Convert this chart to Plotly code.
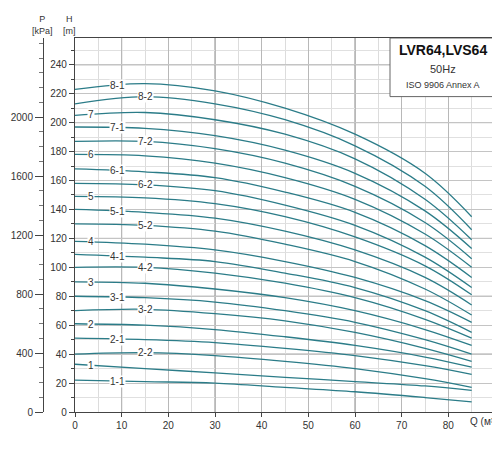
import numpy as np
import plotly.graph_objects as go

q = [0, 15, 30, 45, 60, 75, 85]

names = ["8-1", "8-2", "7", "7-1", "7-2", "6", "6-1", "6-2", "5", "5-1", "5-2",
         "4", "4-1", "4-2", "3", "3-1", "3-2", "2", "2-1", "2-2", "1", "1-1"]

h_8_1 = [223, 227, 222, 210, 192, 165, 135]
h_8_2 = [213, 218, 213, 202, 184, 156, 126]
h_7 = [205, 207, 202, 192, 175, 147, 119]
h_7_1 = [197, 196, 191, 181, 165, 139, 113]
h_7_2 = [187, 187, 182, 172, 156, 131, 106]
h_6 = [178, 177, 172, 162, 147, 123, 100]
h_6_1 = [168, 166, 162, 152, 138, 115, 93]
h_6_2 = [158, 157, 153, 143, 129, 107, 86]
h_5 = [149, 148, 144, 135, 121, 101, 81]
h_5_1 = [140, 138, 134, 125, 112, 93, 74]
h_5_2 = [130, 129, 125, 116, 104, 85, 67]
h_4 = [118, 116, 112, 104, 93, 77, 62]
h_4_1 = [109, 107, 104, 96, 86, 70, 55]
h_4_2 = [100, 100, 96, 89, 79, 64, 51]
h_3 = [90, 89, 85, 79, 70, 57, 46]
h_3_1 = [80, 79, 76, 70, 62, 50, 40]
h_3_2 = [70, 71, 68, 63, 55, 44, 35]
h_2 = [61, 60, 57, 52, 46, 38, 31]
h_2_1 = [51, 50, 48, 44, 39, 32, 26]
h_2_2 = [40, 41, 39, 35, 30, 23, 17]
h_1 = [33, 30, 27, 24, 21, 18, 15]
h_1_1 = [22, 21, 20, 17, 14, 10, 7]

heads = [h_8_1, h_8_2, h_7, h_7_1, h_7_2, h_6, h_6_1, h_6_2, h_5, h_5_1, h_5_2,
         h_4, h_4_1, h_4_2, h_3, h_3_1, h_3_2, h_2, h_2_1, h_2_2, h_1, h_1_1]

x_ticks = [0, 10, 20, 30, 40, 50, 60, 70, 80]
h_ticks = list(range(0, 241, 20))
p_ticks = [0, 400, 800, 1200, 1600, 2000]

line_col = "#2b7c88"
H_MAX = 258.5

fig = go.Figure()
for name, h in zip(names, heads):
    fig.add_trace(go.Scatter(x=q, y=h, mode="lines", line=dict(color=line_col, width=1.3, shape="spline"),
                             showlegend=False, hoverinfo="skip"))
    # label position depends on suffix
    if name.endswith("-1"):
        lx = 9
    elif name.endswith("-2"):
        lx = 15
    else:
        lx = 3.5
    ly = np.interp(lx, q, h)
    fig.add_annotation(x=lx, y=ly, text=name, showarrow=False, bgcolor="white",
                       font=dict(size=10, color="#333"), borderpad=0)

# dummy trace for the pressure axis
fig.add_trace(go.Scatter(x=[0], y=[0], yaxis="y2", mode="markers", marker=dict(opacity=0),
                         showlegend=False, hoverinfo="skip"))

fig.update_layout(
    width=500, height=450,
    margin=dict(l=5, r=13, t=30, b=46, autoexpand=False),
    plot_bgcolor="white", paper_bgcolor="white",
    font=dict(family="Liberation Sans, Arial", size=10, color="#333"),
    xaxis=dict(domain=[62 / 482, 1], range=[0, 90], tickvals=x_ticks, showgrid=True, automargin=False,
               gridcolor="#b8b8b8", gridwidth=1, zeroline=False,
               minor=dict(dtick=5, showgrid=True, gridcolor="#dcdcdc"),
               showline=True, linecolor="#444", linewidth=1.2, mirror=True,
               ticks="outside", ticklen=4, tickcolor="#444"),
    yaxis=dict(range=[0, H_MAX], tickvals=h_ticks, showgrid=True, gridcolor="#c4c4c4", automargin=False,
               zeroline=False, minor=dict(dtick=10, showgrid=True, gridcolor="#e0e0e0",
                                          ticks="outside", ticklen=3, tickcolor="#444"),
               showline=True, linecolor="#444", linewidth=1.2, mirror=True,
               ticks="outside", ticklen=5, tickcolor="#444"),
    yaxis2=dict(overlaying="y", anchor="free", position=30 / 482, side="left", automargin=False,
                range=[0, H_MAX * 9.81], tickvals=p_ticks, showgrid=False, zeroline=False,
                showline=True, linecolor="#444", linewidth=1,
                ticks="outside", ticklen=8, tickcolor="#444",
                minor=dict(dtick=100, ticks="outside", ticklen=4, tickcolor="#777")),
)

# grid lines at multiples of 40 m are darker
for hv in [40, 80, 120, 160, 200, 240]:
    fig.add_shape(type="line", xref="x", yref="y", x0=0, x1=90, y0=hv, y1=hv,
                  line=dict(color="#8a8a8a", width=1), layer="below")
for qv in [10, 30, 60]:
    fig.add_shape(type="line", xref="x", yref="y", x0=qv, x1=qv, y0=0, y1=H_MAX,
                  line=dict(color="#8a8a8a", width=1), layer="below")

# title box
fig.add_shape(type="rect", xref="x", yref="y", x0=67.5, x1=90, y0=218, y1=H_MAX,
              fillcolor="white", line=dict(color="#666", width=1))
fig.add_annotation(x=78.8, y=250, xref="x", yref="y", text="<b>LVR64,LVS64</b>", showarrow=False,
                   font=dict(size=14, color="#111"))
fig.add_annotation(x=78.8, y=237, xref="x", yref="y", text="50Hz", showarrow=False,
                   font=dict(size=11, color="#333"))
fig.add_annotation(x=78.8, y=226, xref="x", yref="y", text="ISO 9906 Annex A", showarrow=False,
                   font=dict(size=9, color="#333"))

# axis titles
fig.add_annotation(xref="paper", yref="paper", x=0.035, y=1.0, yanchor="bottom", text="P<br>[kPa]",
                   showarrow=False, font=dict(size=9))
fig.add_annotation(xref="paper", yref="paper", x=0.1, y=1.0, yanchor="bottom", text="H<br>[m]",
                   showarrow=False, font=dict(size=9))
fig.add_annotation(xref="paper", yref="paper", x=1.025, y=-0.005, yanchor="top", xanchor="right",
                   text="Q (м³/ч)", showarrow=False, font=dict(size=10))

fig.write_html("out.html")
